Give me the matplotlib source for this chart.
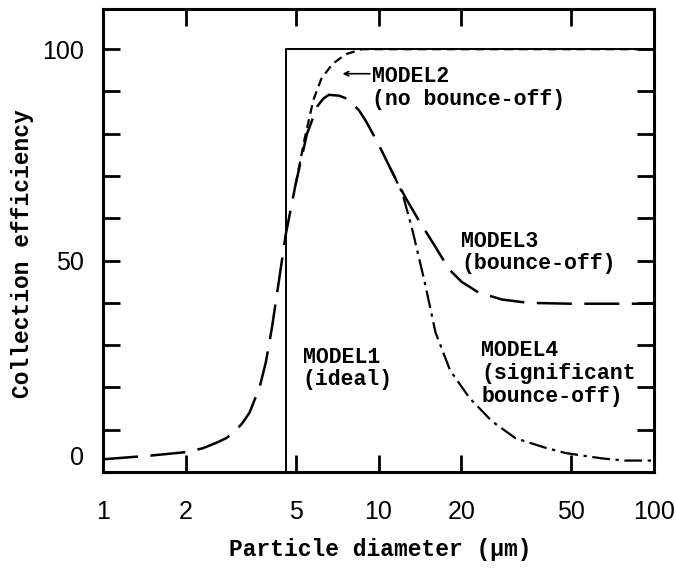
import matplotlib.pyplot as plt
from matplotlib.transforms import ScaledTranslation

# Fonts: narrow sans for tick numbers, bold typewriter look for the rest
MONO = ['Liberation Mono', 'DejaVu Sans Mono']
NARROW = ['Liberation Sans Narrow', 'Liberation Sans', 'DejaVu Sans']

# MODEL1 (ideal) - step at the cut-off diameter
model1_x = [4.6, 4.6, 100]
model1_y = [0, 100, 100]

# MODEL2 (no bounce-off) - only the part that leaves MODEL3
model2_x = [5.0, 5.4, 5.8, 6.2, 6.8, 7.6, 8.7, 100]
model2_y = [68, 79, 88, 93, 96.5, 98.8, 100, 100]

# MODEL3 (bounce-off)
model3_x = [1.0, 1.5, 2.0, 2.3, 2.6, 2.8, 3.0, 3.2, 3.4, 3.7, 3.9, 4.1, 4.3, 4.6,
            5.0, 5.5, 6.0, 6.3, 6.6, 7.2, 7.6, 8.0, 8.5, 9.0, 10.0, 11.0, 12.5,
            14.0, 16.0, 18.0, 20.0, 23.0, 28.0, 35.0, 50.0, 100.0]
model3_y = [3.0, 3.9, 4.7, 5.6, 7.0, 8.0, 9.5, 11.5, 14.0, 20, 26, 34, 43, 56,
            68, 80, 86.5, 88.3, 89.2, 89.0, 88.4, 87.3, 85.5, 83, 77.5, 72, 65,
            59.5, 53.5, 48, 45, 42.5, 40.8, 40.0, 39.8, 39.8]

# MODEL4 (significant bounce-off) - branches from MODEL3
model4_x = [11.0, 12.2, 13.3, 14.7, 16.1, 18.2, 21.4, 25.8, 31.4, 40, 47.6, 56, 65,
            78.5, 100]
model4_y = [72, 66, 57, 45, 33, 24, 17.5, 12, 8, 5.8, 4.5, 3.8, 3.2, 2.7, 2.7]

x_ticks = [1, 2, 5, 10, 20, 50, 100]
x_labels = ['1', '2', '5', '10', '20', '50', '100']
y_ticks = [0, 50, 100]
y_labels = ['0', '50', '100']
y_minor = list(range(0, 101, 10))

fig = plt.figure(figsize=(6.76, 5.71), dpi=100)
ax = fig.add_axes([0.1524, 0.1734, 0.8151, 0.8108])

ax.plot(model1_x, model1_y, color='black', lw=1.4)
ax.plot(model2_x, model2_y, color='black', lw=1.6, dashes=(4, 2.5))
ax.plot(model3_x, model3_y, color='black', lw=1.8, dashes=(14, 5))
ax.plot(model4_x, model4_y, color='black', lw=1.6, dashes=(8, 2.5, 1.5, 2.5))

ax.set_xscale('log')
ax.set_xlim(1, 100)
ax.set_ylim(0, 109.5)

# Ticks
ax.set_xticks(x_ticks)
ax.set_xticklabels(x_labels)
ax.xaxis.set_minor_locator(plt.NullLocator())
ax.set_yticks(y_ticks)
ax.set_yticklabels(y_labels)
ax.set_yticks(y_minor, minor=True)
ax.tick_params(which='both', direction='in', length=12, width=2,
               top=True, right=True)
ax.tick_params(axis='x', pad=20)
ax.tick_params(axis='y', pad=14)
for lab in ax.get_xticklabels() + ax.get_yticklabels():
    lab.set_fontfamily(NARROW)
    lab.set_fontsize(18)

# the "0" label sits a bit above the bottom frame in the original
zero = ax.get_yticklabels()[0]
zero.set_transform(zero.get_transform() + ScaledTranslation(0, 0.16, fig.dpi_scale_trans))

for sp in ax.spines.values():
    sp.set_linewidth(2.2)

# Axis titles
ax.set_xlabel('Particle diameter (μm)', fontfamily=MONO, fontweight='bold', fontsize=16.5)
ax.xaxis.set_label_coords(0.503, -0.168)
ax.xaxis.label.set_va('center')
ax.set_ylabel('Collection efficiency', fontfamily=MONO, fontweight='bold', fontsize=16.5)
ax.yaxis.set_label_coords(-0.147, 0.471)
ax.yaxis.label.set_va('center')

# Curve notes
note = dict(fontfamily=MONO, fontweight='bold', fontsize=15.5, va='center',
            ha='left', linespacing=1.1)
ax.text(9.5, 90.8, 'MODEL2\n(no bounce-off)', **note)
ax.text(20.0, 51.9, 'MODEL3\n(bounce-off)', **note)
ax.text(5.3, 24.5, 'MODEL1\n(ideal)', **note)
ax.text(23.6, 23.3, 'MODEL4\n(significant\nbounce-off)', **note)
ax.annotate('', xy=(7.4, 94.2), xytext=(9.3, 94.2),
            arrowprops=dict(arrowstyle='->', color='black', lw=1.2,
                            mutation_scale=8, shrinkA=0, shrinkB=0))

fig.savefig('out.png', dpi=100)
